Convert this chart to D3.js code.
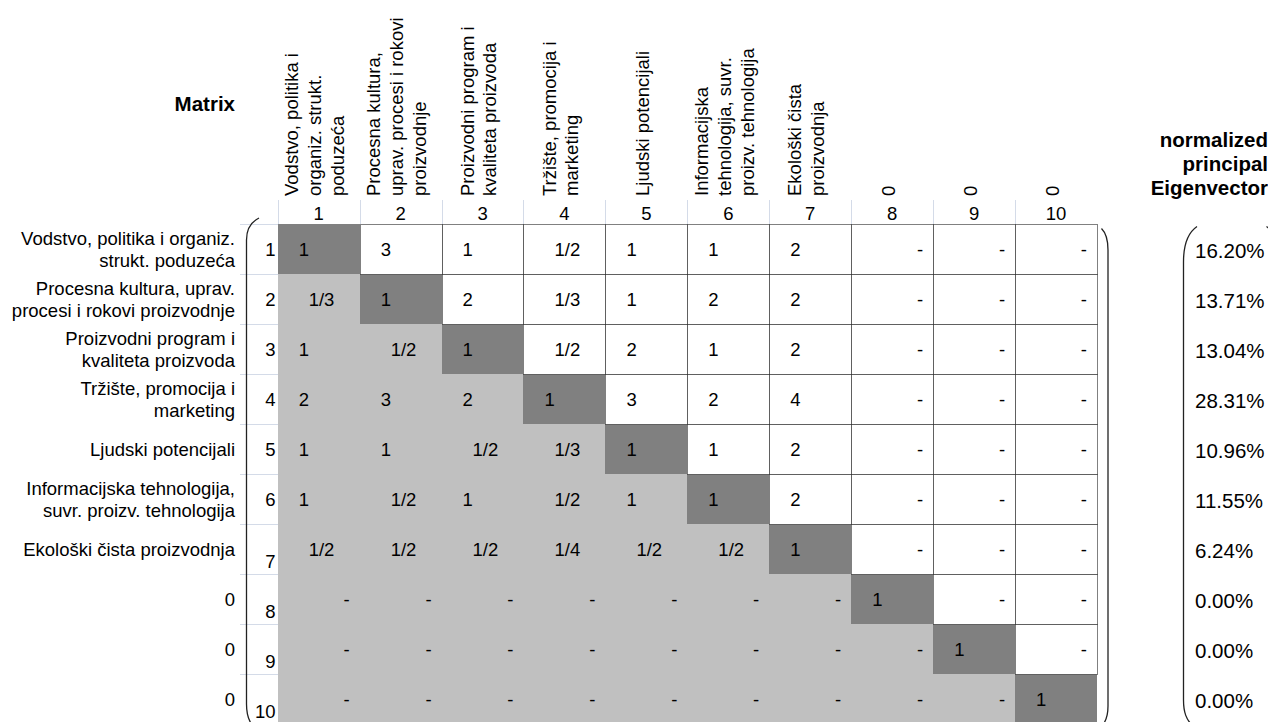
<!DOCTYPE html>
<html>
<head>
<meta charset="utf-8">
<script src="https://cdn.jsdelivr.net/npm/d3@7"></script>
<style>
  body { margin: 0; background: #fff; }
  text { font-family: "Liberation Sans", Arial, sans-serif; fill: #000; }
</style>
</head>
<body>
<div id="chart"></div>
<script>
// criteria (columns and rows share the same index 1..10)
var criteria = d3.range(1, 11);

var colHeaders = [
    ["Vodstvo, politika i", "organiz. strukt.", "poduzeća"],
    ["Procesna kultura,", "uprav. procesi i rokovi", "proizvodnje"],
    ["Proizvodni program i", "kvaliteta proizvoda"],
    ["Tržište, promocija i", "marketing"],
    ["Ljudski potencijali"],
    ["Informacijska", "tehnologija, suvr.", "proizv. tehnologija"],
    ["Ekološki čista", "proizvodnja"],
    ["0"], ["0"], ["0"]
];

var rowLabels = [
    ["Vodstvo, politika i organiz.", "strukt. poduzeća"],
    ["Procesna kultura, uprav.", "procesi i rokovi proizvodnje"],
    ["Proizvodni program i", "kvaliteta proizvoda"],
    ["Tržište, promocija i", "marketing"],
    ["Ljudski potencijali"],
    ["Informacijska tehnologija,", "suvr. proizv. tehnologija"],
    ["Ekološki čista proizvodnja"],
    ["0"], ["0"], ["0"]
];

// pairwise comparison matrix, 0 = empty ("-")
var matrix = [
    [1,   3,   1,   1/2, 1,   1,   2, 0, 0, 0],
    [1/3, 1,   2,   1/3, 1,   2,   2, 0, 0, 0],
    [1,   1/2, 1,   1/2, 2,   1,   2, 0, 0, 0],
    [2,   3,   2,   1,   3,   2,   4, 0, 0, 0],
    [1,   1,   1/2, 1/3, 1,   1,   2, 0, 0, 0],
    [1,   1/2, 1,   1/2, 1,   1,   2, 0, 0, 0],
    [1/2, 1/2, 1/2, 1/4, 1/2, 1/2, 1, 0, 0, 0],
    [0,   0,   0,   0,   0,   0,   0, 1, 0, 0],
    [0,   0,   0,   0,   0,   0,   0, 0, 1, 0],
    [0,   0,   0,   0,   0,   0,   0, 0, 0, 1]
];

var eigenvector = [0.1620, 0.1371, 0.1304, 0.2831, 0.1096, 0.1155, 0.0624, 0, 0, 0];

var eigenTitle = ["normalized", "principal", "Eigenvector"];

function chart() {
    var totalWidth = 1268, totalHeight = 722;
    var svg = d3.select("#chart").append("svg")
        .attr("width", totalWidth)
        .attr("height", totalHeight);

    var x = d3.scaleBand().domain(criteria).range([277.7, 1097]);
    var y = d3.scaleBand().domain(criteria).range([224.3, 724.3]);
    var bw = x.bandwidth(), bh = y.bandwidth();
    var fs = "18.5px";
    var fmtPct = d3.format(".2%");
    function fmtVal(v) {
        if (v === 0) return "-";
        if (v >= 1) return String(v);
        return "1/" + Math.round(1 / v);
    }

    var cells = [];
    matrix.forEach(function(row, i) {
        row.forEach(function(v, j) {
            cells.push({r: i + 1, c: j + 1, v: v});
        });
    });

    // light spreadsheet gridlines
    var grid = svg.append("g").attr("stroke", "#d4dbe8").attr("stroke-width", 1);
    grid.selectAll("line.h")
        .data(criteria.concat([11]))
        .enter().append("line")
        .attr("x1", 240).attr("x2", 278)
        .attr("y1", function(d) { return Math.round(d === 11 ? y(10) + bh : y(d)) + 0.5; })
        .attr("y2", function(d) { return Math.round(d === 11 ? y(10) + bh : y(d)) + 0.5; });
    grid.selectAll("line.v")
        .data(criteria)
        .enter().append("line")
        .attr("y1", 200).attr("y2", 224)
        .attr("x1", function(d) { return Math.round(x(d)) + 0.5; })
        .attr("x2", function(d) { return Math.round(x(d)) + 0.5; });

    // filled cells (diagonal + lower triangle)
    svg.append("g").selectAll("rect")
        .data(cells.filter(function(d) { return d.r >= d.c; }))
        .enter().append("rect")
        .attr("x", function(d) { return Math.round(x(d.c)); })
        .attr("y", function(d) { return Math.round(y(d.r)); })
        .attr("width", function(d) { return Math.round(x(d.c) + bw) - Math.round(x(d.c)); })
        .attr("height", function(d) { return Math.round(y(d.r) + bh) - Math.round(y(d.r)); })
        .attr("fill", function(d) { return d.r === d.c ? "#808080" : "#c0c0c0"; });

    // upper triangle with dotted borders
    svg.append("g").selectAll("rect")
        .data(cells.filter(function(d) { return d.r < d.c; }))
        .enter().append("rect")
        .attr("x", function(d) { return Math.round(x(d.c)) + 0.5; })
        .attr("y", function(d) { return Math.round(y(d.r)) + 0.5; })
        .attr("width", function(d) { return Math.round(x(d.c) + bw) - Math.round(x(d.c)); })
        .attr("height", function(d) { return Math.round(y(d.r) + bh) - Math.round(y(d.r)); })
        .attr("fill", "#fff")
        .attr("stroke", "#000")
        .attr("stroke-width", 1)
        .attr("stroke-dasharray", "1,1");

    // cell values
    svg.append("g").selectAll("text")
        .data(cells)
        .enter().append("text")
        .style("font-size", fs)
        .attr("text-anchor", function(d) { return d.v === 0 ? "end" : "start"; })
        .attr("x", function(d) {
            if (d.v === 0) return x(d.c) + bw - 10;
            return x(d.c) + (d.v >= 1 ? 21 : 31);
        })
        .attr("y", function(d) { return y(d.r) + bh / 2 + 6.5; })
        .text(function(d) { return fmtVal(d.v); });

    // column numbers
    svg.append("g").selectAll("text")
        .data(criteria)
        .enter().append("text")
        .style("font-size", fs)
        .attr("text-anchor", "middle")
        .attr("x", function(d) { return x(d) + bw / 2; })
        .attr("y", 219.5)
        .text(function(d) { return d; });

    // rotated column headers
    var hdr = svg.append("g");
    colHeaders.forEach(function(lines, k) {
        var c = k + 1, n = lines.length;
        lines.forEach(function(t, i) {
            var bx = x(c) + bw / 2 + 2.5 + (i - (n - 1) / 2) * 22.7;
            hdr.append("text")
                .style("font-size", fs)
                .attr("transform", "translate(" + bx + ",196) rotate(-90)")
                .text(t);
        });
    });

    // row labels
    var rl = svg.append("g");
    rowLabels.forEach(function(lines, k) {
        var r = k + 1, n = lines.length, cy = y(r) + bh / 2;
        lines.forEach(function(t, i) {
            rl.append("text")
                .style("font-size", fs)
                .attr("text-anchor", "end")
                .attr("x", 235)
                .attr("y", cy + 6.5 + (i - (n - 1) / 2) * 22.3)
                .text(t);
        });
    });

    // row numbers
    svg.append("g").selectAll("text")
        .data(criteria)
        .enter().append("text")
        .style("font-size", fs)
        .attr("text-anchor", "end")
        .attr("x", 275.5)
        .attr("y", function(d) { return d > 6 ? y(d) + bh - 6 : y(d) + bh / 2 + 7; })
        .text(function(d) { return d; });

    // titles
    svg.append("text")
        .style("font-size", "20.5px").style("font-weight", "bold")
        .attr("text-anchor", "end")
        .attr("x", 235).attr("y", 111)
        .text("Matrix");
    svg.append("g").selectAll("text")
        .data(eigenTitle)
        .enter().append("text")
        .style("font-size", "20.5px").style("font-weight", "bold")
        .attr("text-anchor", "end")
        .attr("x", 1268)
        .attr("y", function(d, i) { return 146.5 + i * 24; })
        .text(function(d) { return d; });

    // eigenvector values
    svg.append("g").selectAll("text")
        .data(eigenvector)
        .enter().append("text")
        .style("font-size", "20.5px")
        .attr("x", 1195)
        .attr("y", function(d, i) { return y(i + 1) + bh / 2 + 9; })
        .text(function(d) { return fmtPct(d); });

    // brackets
    var br = svg.append("g")
        .attr("fill", "none")
        .attr("stroke", "#222")
        .attr("stroke-width", 1.3);
    br.append("path").attr("d", "M259,218 C251,222 246.5,230 246.5,240 L246.5,704 C246.5,714 248,722 255,728");
    br.append("path").attr("d", "M1101.5,228.5 C1106,233 1108,240 1108,250 L1108,706 C1108,716 1106,722 1101,727");
    br.append("path").attr("d", "M1197,226.5 C1189,232 1183.5,244 1183.5,262 L1183.5,700 C1183.5,712 1186,720 1194,727");
    br.append("path").attr("d", "M1266.5,226.5 C1274.5,232 1280,244 1280,262 L1280,700");

    return svg;
}

chart();
</script>
</body>
</html>
